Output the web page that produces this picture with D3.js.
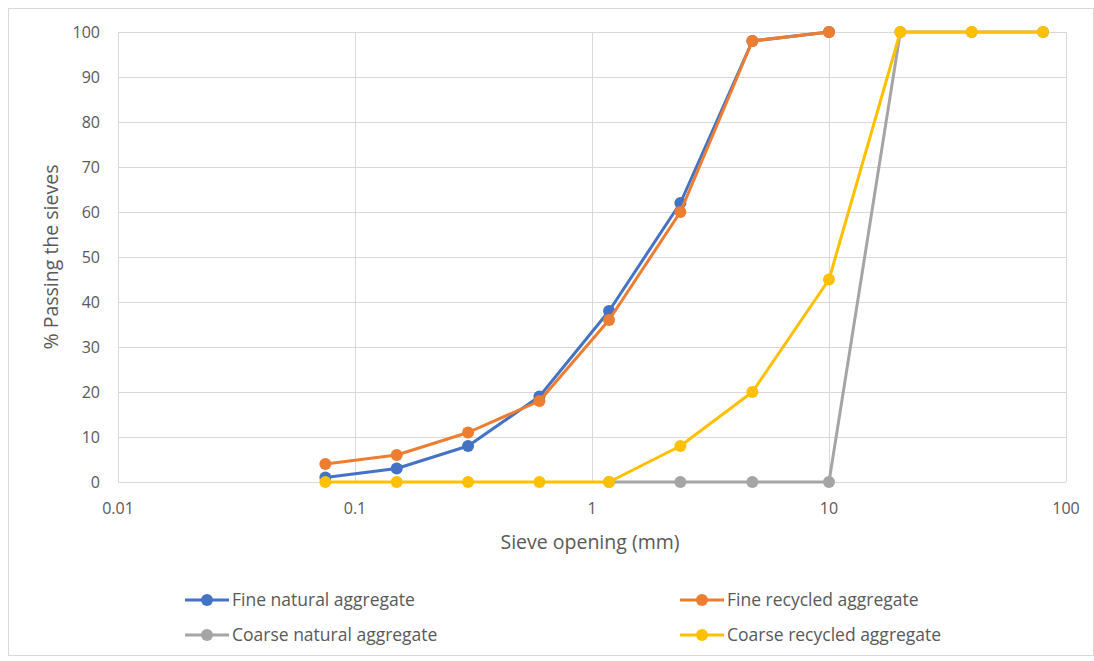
<!DOCTYPE html>
<html>
<head>
<meta charset="utf-8">
<script src="https://cdn.jsdelivr.net/npm/d3@7"></script>
<style>
  body { margin: 0; background: #fff; }
  text { font-family: "Open Sans", "Noto Sans", sans-serif; fill: #595959; }
</style>
</head>
<body>
<div id="chart"></div>
<script>
// sieve sizes (mm) and % passing
const sieves = [0.075, 0.15, 0.3, 0.6, 1.18, 2.36, 4.75, 10, 20, 40, 80];
const fineNatural   = [1, 3, 8, 19, 38, 62, 98, 100, null, null, null];
const fineRecycled  = [4, 6, 11, 18, 36, 60, 98, 100, null, null, null];
const coarseNatural = [null, null, null, null, 0, 0, 0, 0, 100, 100, 100];
const coarseRecycled = [0, 0, 0, 0, 0, 8, 20, 45, 100, 100, 100];
const seriesNames = ["Fine natural aggregate", "Fine recycled aggregate", "Coarse natural aggregate", "Coarse recycled aggregate"];
const seriesColors = ["#4472C4", "#ED7D31", "#A5A5A5", "#FFC000"];
const xTicks = [0.01, 0.1, 1, 10, 100];
const yTicks = [0, 10, 20, 30, 40, 50, 60, 70, 80, 90, 100];

const W = 1094, H = 661;
const margin = {top: 32, right: 28, bottom: 179, left: 118};
const width = W - margin.left - margin.right,
      height = H - margin.top - margin.bottom;

const root = d3.select("#chart").append("svg")
  .attr("width", W).attr("height", H);

// outer frame
root.append("rect")
  .attr("x", 8.5).attr("y", 8.5)
  .attr("width", W - 9).attr("height", H - 14)
  .attr("fill", "none").attr("stroke", "#d9d9d9");

const svg = root.append("g")
  .attr("transform", `translate(${margin.left},${margin.top})`);

const x = d3.scaleLog().domain([0.01, 100]).range([0, width]);
const y = d3.scaleLinear().domain([0, 100]).range([height, 0]);

// gridlines
svg.append("g").selectAll("line.h").data(yTicks).join("line")
  .attr("x1", 0).attr("x2", width)
  .attr("y1", d => Math.round(y(d)) + 0.5).attr("y2", d => Math.round(y(d)) + 0.5)
  .attr("stroke", "#d9d9d9");
svg.append("g").selectAll("line.v").data(xTicks).join("line")
  .attr("x1", d => Math.round(x(d)) + 0.5).attr("x2", d => Math.round(x(d)) + 0.5)
  .attr("y1", 0).attr("y2", height)
  .attr("stroke", "#d9d9d9");

// tick labels
svg.append("g").selectAll("text").data(yTicks).join("text")
  .attr("x", -18).attr("y", d => y(d))
  .attr("dy", "0.35em")
  .attr("text-anchor", "end")
  .style("font-size", "16px")
  .text(d => d);
svg.append("g").selectAll("text").data(xTicks).join("text")
  .attr("x", d => x(d)).attr("y", height + 32)
  .attr("text-anchor", "middle")
  .style("font-size", "16px")
  .text(d => d);

// axis titles
svg.append("text")
  .attr("x", width / 2 - 2).attr("y", height + 67)
  .attr("text-anchor", "middle")
  .style("font-size", "19.5px")
  .text("Sieve opening (mm)");
svg.append("text")
  .attr("transform", "rotate(-90)")
  .attr("x", -225).attr("y", -60)
  .attr("text-anchor", "middle")
  .style("font-size", "19.5px")
  .text("% Passing the sieves");

// series
const allSeries = [fineNatural, fineRecycled, coarseNatural, coarseRecycled];
const line = d3.line()
  .defined(d => d.v !== null)
  .x(d => x(d.s)).y(d => y(d.v));

allSeries.forEach((vals, i) => {
  const pts = sieves.map((s, j) => ({s: s, v: vals[j]}));
  const g = svg.append("g");
  g.append("path").datum(pts)
    .attr("d", line)
    .attr("fill", "none")
    .attr("stroke", seriesColors[i])
    .attr("stroke-width", 3)
    .attr("stroke-linejoin", "round");
  g.selectAll("circle").data(pts.filter(d => d.v !== null)).join("circle")
    .attr("cx", d => x(d.s)).attr("cy", d => y(d.v))
    .attr("r", 6)
    .attr("fill", seriesColors[i]);
});

// legend
const legendPos = [[185, 600], [680, 600], [185, 635], [680, 635]];
seriesNames.forEach((name, i) => {
  const [lx, ly] = legendPos[i];
  const g = root.append("g").attr("transform", `translate(${lx},${ly})`);
  g.append("line").attr("x1", 0).attr("x2", 44).attr("y1", 0).attr("y2", 0)
    .attr("stroke", seriesColors[i]).attr("stroke-width", 3);
  g.append("circle").attr("cx", 22).attr("cy", 0).attr("r", 6).attr("fill", seriesColors[i]);
  g.append("text").attr("x", 47).attr("y", 0).attr("dy", "0.35em")
    .style("font-size", "17.5px").text(name);
});
</script>
</body>
</html>
